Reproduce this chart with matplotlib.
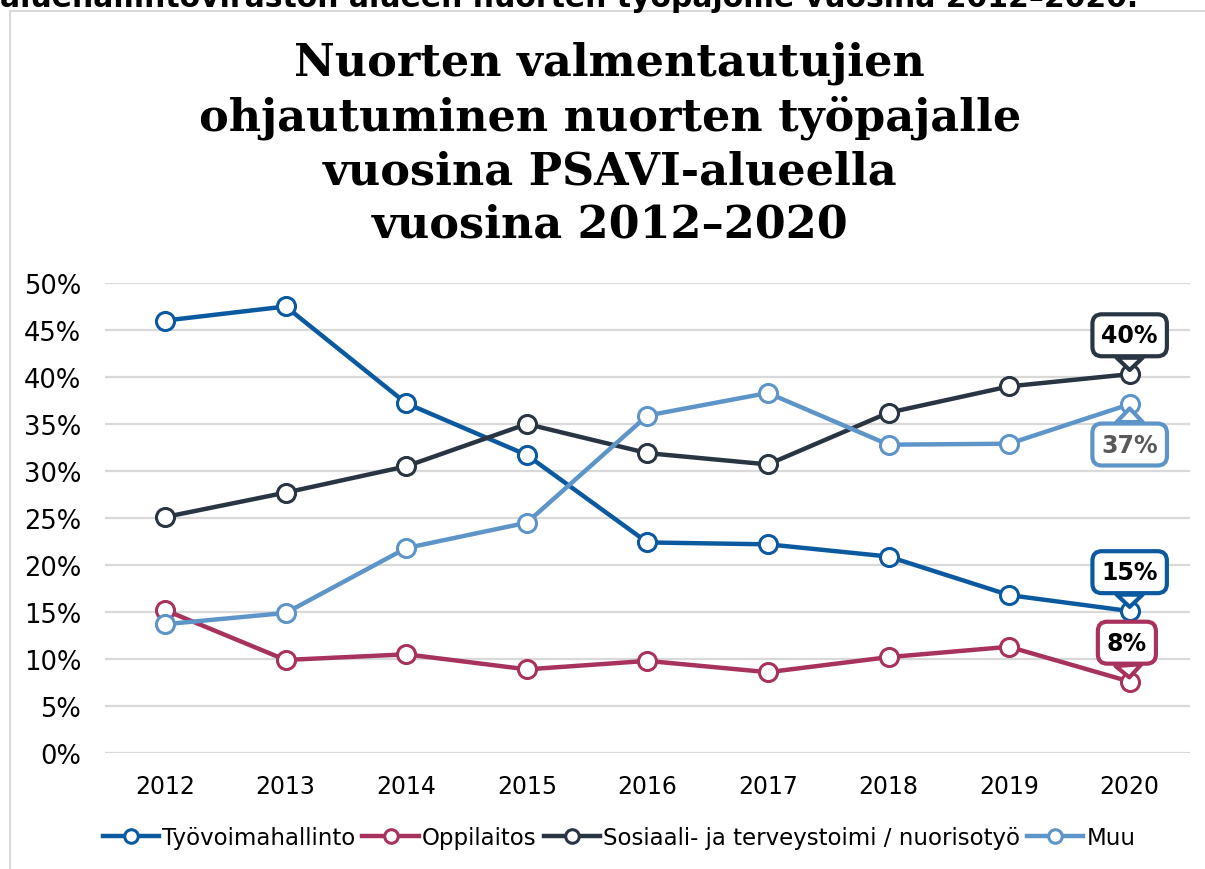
import numpy as np
import matplotlib.pyplot as plt
from matplotlib.patches import Rectangle

years = [2012, 2013, 2014, 2015, 2016, 2017, 2018, 2019, 2020]
tyovoima = [46.0, 47.5, 37.2, 31.7, 22.4, 22.2, 20.9, 16.8, 15.1]
oppilaitos = [15.2, 9.9, 10.5, 8.9, 9.8, 8.6, 10.2, 11.3, 7.6]
sosiaali = [25.1, 27.7, 30.5, 35.0, 31.9, 30.7, 36.2, 39.0, 40.3]
muu = [13.7, 14.9, 21.8, 24.5, 35.9, 38.3, 32.8, 32.9, 37.1]

names = ['Työvoimahallinto', 'Oppilaitos', 'Sosiaali- ja terveystoimi / nuorisotyö', 'Muu']
colors = ['#0B5AA0', '#A8325E', '#2A3544', '#5E95C9']
series = [tyovoima, oppilaitos, sosiaali, muu]
end_labels = ['15%', '8%', '40%', '37%']

fig = plt.figure(figsize=(12.05, 8.7), dpi=100)
ax = fig.add_axes([0.087, 0.1333, 0.9005, 0.5403])

for vals, c, n in zip(series, colors, names):
    ax.plot(years, vals, color=c, lw=3.2, marker='o', ms=13, mfc='white',
            mec=c, mew=2.2, label=n, zorder=3)

# callout labels at the last point
offsets = [(0, 28), (-2, 28), (0, 28), (0, -29)]
txtcol = ['black', 'black', 'black', '#595959']
for vals, c, lab, off, tc in zip(series, colors, end_labels, offsets, txtcol):
    ax.annotate(lab, xy=(years[-1], vals[-1]), xytext=off, textcoords='offset points',
                ha='center', va='center', fontsize=17, fontweight='bold', color=tc,
                bbox=dict(boxstyle='round,pad=0.38,rounding_size=0.4', fc='white', ec=c, lw=3),
                arrowprops=dict(arrowstyle='wedge,tail_width=1.1,shrink_factor=0.5',
                                fc='white', ec=c, lw=3, shrinkA=0, shrinkB=3),
                zorder=5)

ax.set_xlim(2011.5, 2020.5)
ax.set_ylim(0, 50)
ax.set_xticks(years)
ax.set_yticks(np.arange(0, 51, 5))
ax.set_yticklabels([f'{v}%' for v in range(0, 51, 5)])
ax.tick_params(length=0, colors='black')
ax.tick_params(axis='y', pad=17, labelsize=18.5)
ax.tick_params(axis='x', pad=15, labelsize=17)
ax.grid(axis='y', color='#D9D9D9', lw=1.6)
ax.set_axisbelow(True)
for s in ax.spines.values():
    s.set_visible(False)

ax.legend(loc='center', bbox_to_anchor=(0.474, -0.179), ncol=4, frameon=False,
          fontsize=16.5, handlelength=2.45, handletextpad=0.15, columnspacing=0.3,
          markerscale=0.75)

fig.text(0.506, 1 - 144 / 870,
         'Nuorten valmentautujien\nohjautuminen nuorten työpajalle\nvuosina PSAVI-alueella\nvuosina 2012\u20132020',
         ha='center', va='center', fontsize=32, fontweight='bold', family='DejaVu Serif',
         linespacing=1.3)

fig.text(0.0, 1 - 7 / 870, 'aluehallintoviraston alueen nuorten työpajoille vuosina 2012\u20132020.',
         ha='left', va='baseline', fontsize=21.5, fontweight='bold')

fig.patches.append(Rectangle((10 / 1205, -0.01), 1.0, 1 - 12 / 870 + 0.01,
                             transform=fig.transFigure, fill=False, ec='#D9D9D9', lw=1.5))

fig.savefig('out.png', dpi=100)
